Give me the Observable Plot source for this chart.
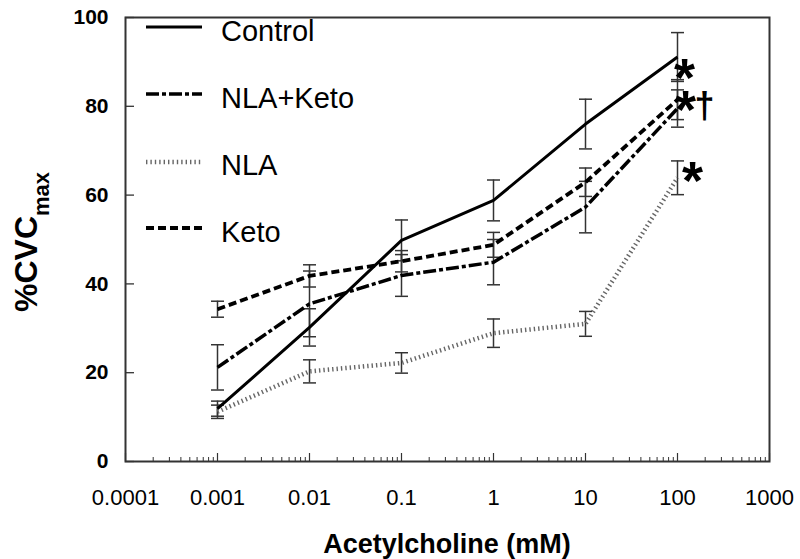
<!DOCTYPE html>
<html><head><meta charset="utf-8">
<script src="https://cdn.jsdelivr.net/npm/d3@7"></script>
<script src="https://cdn.jsdelivr.net/npm/@observablehq/plot@0.6"></script>
<style>
body{margin:0;background:#fff;}
#chart{position:relative;width:800px;height:559px;}
</style>
</head><body><div id="chart"></div>
<script>
// ---- data ----
const concentrations = [0.001, 0.01, 0.1, 1, 10, 100];
const seriesNames = ["Control", "NLA+Keto", "NLA", "Keto"];
const controlMean = [11.9, 30.2, 49.8, 58.8, 76.0, 91.1];
const controlSem  = [1.7, 4.2, 4.6, 4.6, 5.6, 5.5];
const nlaKetoMean = [21.2, 35.5, 41.9, 44.9, 57.3, 79.5];
const nlaKetoSem  = [5.1, 7.4, 4.7, 5.1, 5.8, 4.2];
const nlaMean     = [11.2, 20.3, 22.2, 28.9, 31.0, 63.9];
const nlaSem      = [1.5, 2.6, 2.3, 3.2, 2.8, 3.8];
const ketoMean    = [34.3, 41.8, 45.1, 48.8, 62.9, 81.5];
const ketoSem     = [1.8, 2.5, 2.4, 2.8, 3.2, 4.5];
const xTickValues = [0.0001, 0.001, 0.01, 0.1, 1, 10, 100, 1000];
const xTickLabels = ["0.0001", "0.001", "0.01", "0.1", "1", "10", "100", "1000"];
const yTickValues = [0, 20, 40, 60, 80, 100];
const xTitle = "Acetylcholine (mM)";
const yTitleMain = "%CVC";
const yTitleSub = "max";

// ---- build table ----
const meansBySeries = {"Control": controlMean, "NLA+Keto": nlaKetoMean, "NLA": nlaMean, "Keto": ketoMean};
const semBySeries = {"Control": controlSem, "NLA+Keto": nlaKetoSem, "NLA": nlaSem, "Keto": ketoSem};
const rows = [];
for (const s of seriesNames) {
  concentrations.forEach((c, i) => {
    const m = meansBySeries[s][i], e = semBySeries[s][i];
    rows.push({series: s, conc: c, mean: m, lo: m - e, hi: m + e});
  });
}
const caps = rows.flatMap(d => [{conc: d.conc, v: d.lo}, {conc: d.conc, v: d.hi}]);

const styles = {
  "Control":  {stroke: "#000", strokeWidth: 3, strokeDasharray: null},
  "NLA+Keto": {stroke: "#000", strokeWidth: 3.5, strokeDasharray: "13,3,4,3"},
  "NLA":      {stroke: "#666", strokeWidth: 4.5, strokeDasharray: "1.4,3"},
  "Keto":     {stroke: "#000", strokeWidth: 3.8, strokeDasharray: "8,4"}
};

const capSymbol = {draw(context, size) { const w = Math.sqrt(size / Math.PI); context.moveTo(-w, 0); context.lineTo(w, 0); }};
const minorTicks = d3.scaleLog().domain([1e-4, 1e3]).ticks().filter(t => !xTickValues.includes(t));

const W = 800, H = 559, mL = 125, mR = 31, mT = 17, mB = 98;
const fw = W - mL - mR, fh = H - mT - mB;
const axisColor = "#333";
const FONT = "Arial, 'Liberation Sans', sans-serif";

const lineMarks = seriesNames.map(s => Plot.line(rows.filter(d => d.series === s), {
  x: "conc", y: "mean", stroke: styles[s].stroke, strokeWidth: styles[s].strokeWidth,
  strokeDasharray: styles[s].strokeDasharray, strokeLinecap: "butt"
}));

const at100 = s => rows.filter(d => d.series === s && d.conc === 100);

const plot = Plot.plot({
  width: W, height: H,
  marginLeft: mL, marginRight: mR, marginTop: mT, marginBottom: mB,
  style: {fontFamily: FONT, background: "#fff", overflow: "visible"},
  x: {type: "log", domain: [1e-4, 1e3]},
  y: {domain: [0, 100]},
  marks: [
    Plot.tickY(yTickValues, {y: d => d, stroke: axisColor, strokeWidth: 1.3, insetRight: fw - 9}),
    Plot.tickX(minorTicks, {x: d => d, stroke: axisColor, strokeWidth: 1, insetTop: fh - 4}),
    Plot.tickX(xTickValues, {x: d => d, stroke: axisColor, strokeWidth: 1.2, insetTop: fh - 8}),
    Plot.axisY(yTickValues, {tickSize: 0, tickPadding: 17, fontSize: 21, fontWeight: "bold", label: null}),
    Plot.axisX(xTickValues, {tickSize: 0, tickPadding: 28, fontSize: 22, label: null,
      tickFormat: d => xTickLabels[xTickValues.indexOf(d)]}),
    Plot.ruleX(rows, {x: "conc", y1: "lo", y2: "hi", stroke: axisColor, strokeWidth: 1.5}),
    Plot.dot(caps, {x: "conc", y: "v", r: 6.5, symbol: capSymbol, stroke: axisColor, strokeWidth: 1.5, fill: "none"}),
    ...lineMarks,
    Plot.text(at100("Control"), {x: "conc", y: "mean", text: () => "*", fontSize: 54, fontWeight: "bold", dx: 7, dy: 22, lineAnchor: "middle"}),
    Plot.text(at100("NLA+Keto"), {x: "conc", y: "mean", text: () => "*", fontSize: 54, fontWeight: "bold", dx: 8, dy: 2, lineAnchor: "middle"}),
    Plot.text(at100("NLA+Keto"), {x: "conc", y: "mean", text: () => "\u2020", fontSize: 36, fontWeight: "bold", dx: 27, dy: -2, lineAnchor: "middle"}),
    Plot.text(at100("NLA"), {x: "conc", y: "mean", text: () => "*", fontSize: 54, fontWeight: "bold", dx: 15, dy: 4, lineAnchor: "middle"}),
    Plot.frame({stroke: axisColor, strokeWidth: 2})
  ]
});

const svg = d3.select(plot);
// legend
const legendLineY = [27, 94, 162, 228];
const legendTextY = [41, 108, 175, 242];
const lg = svg.append("g").attr("text-anchor", "start");
seriesNames.forEach((s, i) => {
  lg.append("line").attr("x1", 146).attr("x2", 202).attr("y1", legendLineY[i]).attr("y2", legendLineY[i])
    .attr("stroke", styles[s].stroke).attr("stroke-width", styles[s].strokeWidth)
    .attr("stroke-dasharray", styles[s].strokeDasharray);
  lg.append("text").attr("x", 221).attr("y", legendTextY[i]).attr("font-size", 29)
    .attr("text-anchor", "start").attr("font-family", FONT).attr("fill", "#000").text(s);
});
// axis titles
svg.append("text").attr("x", mL + fw / 2).attr("y", 553).attr("text-anchor", "middle")
  .attr("font-size", 27).attr("font-weight", "bold").attr("font-family", FONT)
  .text(xTitle);
const yt = svg.append("text").attr("transform", "translate(37,312) rotate(-90)").attr("text-anchor", "start")
  .attr("font-size", 32).attr("font-weight", "bold").attr("font-family", FONT);
yt.append("tspan").text(yTitleMain);
yt.append("tspan").attr("font-size", 22).attr("dy", 12).text(yTitleSub);

document.getElementById("chart").appendChild(plot);
</script>
</body></html>
